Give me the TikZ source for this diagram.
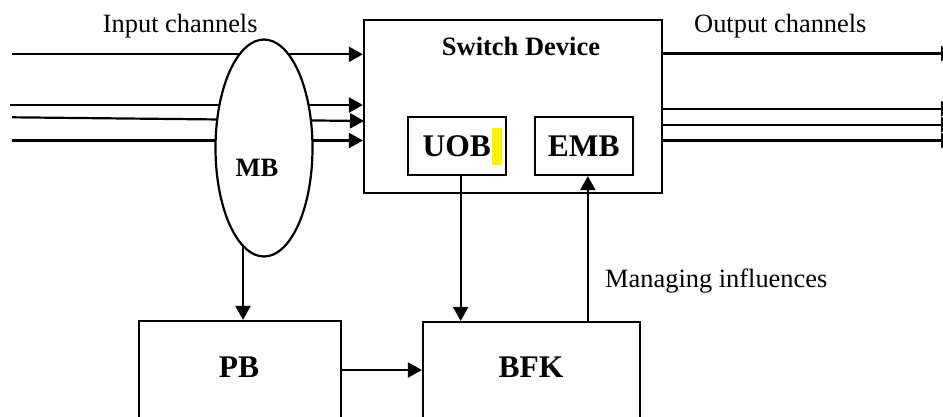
\documentclass[tikz,border=0pt]{standalone}
\usepackage{fontspec}
\setmainfont{Liberation Serif}
\usetikzlibrary{arrows.meta,backgrounds,shapes.geometric}
\begin{document}
\begin{tikzpicture}[x=1pt,y=-1pt,
  arr/.style={line width=2.2pt,-{Triangle[length=14pt,width=15pt]}},
  box/.style={draw,line width=2.2pt,inner sep=0pt},
  reg/.style={font=\fontsize{26.4}{30}\selectfont,inner sep=0pt},
  bl/.style={font=\fontsize{26.5}{30}\selectfont\bfseries,inner sep=0pt},
  bb/.style={font=\fontsize{31.5}{36}\selectfont\bfseries,inner sep=0pt}]
\useasboundingbox (0,0) rectangle (943,416);
% boxes
\node[box,minimum width=298pt,minimum height=173pt] (sw) at (513,106.5) {};
\fill[yellow] (492,128) rectangle (502,165);
\node[box,bb,minimum width=98pt,minimum height=58.3pt] (uob) at (456.65,145.85) {UOB};
\node[box,bb,minimum width=98.3pt,minimum height=58.3pt] (emb) at (583.85,145.85) {EMB};
\node[box,minimum width=202.4pt,minimum height=130pt] (pb) at (239.8,386) {};
\node[box,minimum width=217pt,minimum height=130pt] (bfk) at (531.5,387) {};
\node[box,ellipse,fill=white,minimum width=97pt,minimum height=217pt] (mb) at (264,148) {};
% texts
\node[reg,anchor=base west] (tin) at (102.7,32.7) {Input channels};
\node[reg,anchor=base west] (tout) at (694,32) {Output channels};
\node[bl,anchor=base] (swt) at (521,55) {Switch Device};
\node[bl,anchor=base] (mbt) at (257,176.5) {MB};
\node[bb,anchor=base] (pbt) at (239,377) {PB};
\node[bb,anchor=base] (bfkt) at (531,377.5) {BFK};
\node[reg,anchor=base west] (mit) at (605,287) {Managing influences};
% channel ends
\coordinate (i1) at (12,54.3);
\coordinate (i2) at (10,105);
\coordinate (i3) at (12,117.3);
\coordinate (i3e) at (364,121);
\coordinate (i4) at (12,140.5);
\coordinate (o1) at (955,53.5);
\coordinate (o2) at (955,108.7);
\coordinate (o3) at (955,124.7);
\coordinate (o4) at (955,140.5);
\begin{pgfonlayer}{background}
\draw[arr] (i1) -- (sw.west |- i1);
\draw[arr] (i2) -- (sw.west |- i2);
\draw[arr] (i3) -- (i3e);
\draw[arr] (i4) -- (sw.west |- i4);
\draw[arr] ([xshift=-21pt]mb.center) -- ([xshift=-21pt]mb.center |- pb.north);
\end{pgfonlayer}
\draw[arr] (sw.east |- o1) -- (o1);
\draw[arr] (sw.east |- o2) -- (o2);
\draw[arr] (sw.east |- o3) -- (o3);
\draw[arr] (sw.east |- o4) -- (o4);
\draw[arr] ([xshift=4pt]uob.south) -- ([xshift=4pt]uob.south |- bfk.north);
\draw[arr] ([xshift=4pt]emb.south |- bfk.north) -- ([xshift=4pt]emb.south);
\draw[arr] (pb.east |- 0,370) -- (bfk.west |- 0,370);
\end{tikzpicture}
\end{document}
